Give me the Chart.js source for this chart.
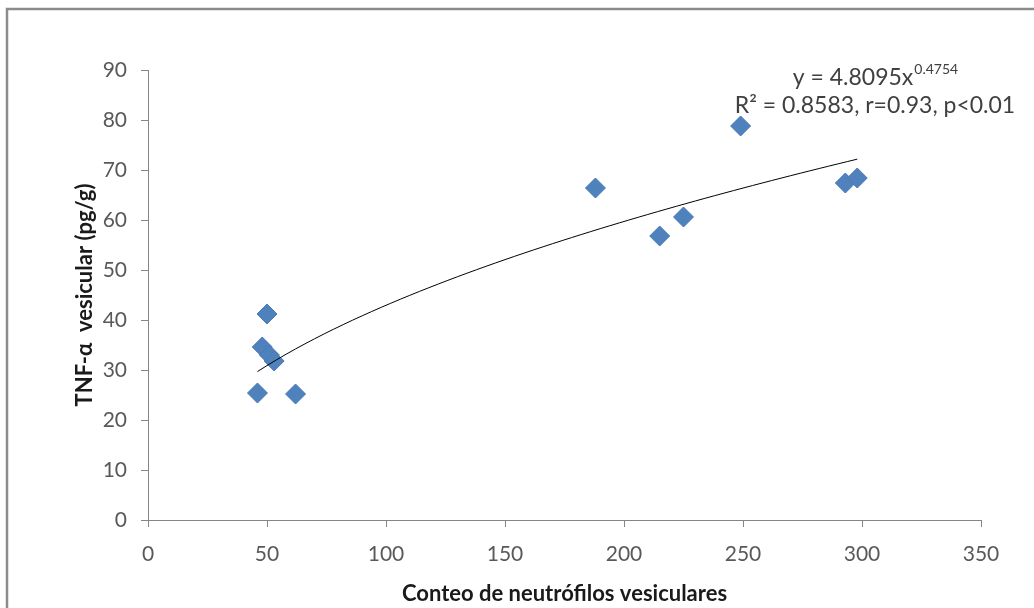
<!DOCTYPE html>
<html>
<head>
<meta charset="utf-8">
<title>TNF-α vesicular</title>
<script src="https://cdn.jsdelivr.net/npm/chart.js@4/dist/chart.umd.min.js"></script>
<style>
    html, body { margin: 0; padding: 0; background: #fff; }
    #wrap { width: 1034px; height: 608px; position: relative; }
</style>
</head>
<body>
<div id="wrap"><canvas id="tnfChart"></canvas></div>
<script>
// Neutrophil count vs TNF-alpha per sample
const neutrofilos = [46, 62, 50, 48, 51, 53, 188, 215, 225, 249, 293, 298];
const tnfAlfa = [25.4, 25.2, 41.2, 34.6, 33.0, 31.8, 66.4, 56.8, 60.6, 78.8, 67.4, 68.4];

// Power fit reported for the series: y = a * x^b
const coefA = 4.8095;
const coefB = 0.4754;
const fitRange = [46, 298];

const xTicks = [0, 50, 100, 150, 200, 250, 300, 350];
const yTicks = [0, 10, 20, 30, 40, 50, 60, 70, 80, 90];

const axisGray = '#868686';
const labelGray = '#595959';

// Build the fitted curve from the reported coefficients
function buildTrend() {
    const pts = [];
    for (let x = fitRange[0]; x <= fitRange[1]; x += 4) {
        pts.push({ x: x, y: coefA * Math.pow(x, coefB) });
    }
    pts.push({ x: fitRange[1], y: coefA * Math.pow(fitRange[1], coefB) });
    return pts;
}

const puntos = neutrofilos.map((x, i) => ({ x: x, y: tnfAlfa[i] }));

// White background and the gray frame lines
const framePlugin = {
    id: 'frame',
    beforeDraw(chart) {
        const ctx = chart.ctx;
        ctx.save();
        ctx.fillStyle = '#fff';
        ctx.fillRect(0, 0, chart.width, chart.height);
        ctx.strokeStyle = '#8c8c8c';
        ctx.lineWidth = 2.5;
        ctx.beginPath();
        ctx.moveTo(7, chart.height);
        ctx.lineTo(7, 9);
        ctx.lineTo(chart.width, 9);
        ctx.stroke();
        ctx.restore();
    }
};

// Equation text near the top right
const equationPlugin = {
    id: 'equation',
    afterDraw(chart) {
        const ctx = chart.ctx;
        const cx = 875;
        ctx.save();
        ctx.fillStyle = '#404040';
        ctx.textBaseline = 'alphabetic';
        ctx.textAlign = 'left';

        const main = 'y = ' + coefA.toFixed(4) + 'x';
        const sup = coefB.toFixed(4);
        ctx.font = '23px Lato';
        const w1 = ctx.measureText(main).width;
        ctx.font = '14px Lato';
        const w2 = ctx.measureText(sup).width;
        const start = cx - (w1 + w2) / 2;
        ctx.font = '23px Lato';
        ctx.fillText(main, start, 85);
        ctx.font = '14px Lato';
        ctx.fillText(sup, start + w1 + 1, 74);

        ctx.font = '23px Lato';
        ctx.textAlign = 'center';
        ctx.fillText('R² = 0.8583, r=0.93, p<0.01', cx, 113);
        ctx.restore();
    }
};

const ctx = document.getElementById('tnfChart').getContext('2d');

new Chart(ctx, {
    type: 'scatter',

    data: {
        datasets: [
            {
                label: 'TNF-α',
                data: puntos,
                pointStyle: 'rectRot',
                pointRadius: 10,
                pointHoverRadius: 10,
                backgroundColor: '#4F81BD',
                borderColor: '#4A7BB5',
                borderWidth: 1,
                order: 1
            },
            {
                label: 'Potencial',
                type: 'line',
                data: buildTrend(),
                borderColor: '#000',
                borderWidth: 1,
                pointRadius: 0,
                fill: false,
                tension: 0,
                order: 0
            }
        ]
    },

    options: {
        responsive: true,
        maintainAspectRatio: false,
        animation: false,

        layout: {
            padding: { top: 70, right: 53, left: 0, bottom: 0 }
        },

        plugins: {
            legend: { display: false },
            tooltip: { enabled: false }
        },

        scales: {
            x: {
                type: 'linear',
                min: xTicks[0],
                max: xTicks[xTicks.length - 1],
                afterBuildTicks: (scale) => {
                    scale.ticks = xTicks.map(v => ({ value: v }));
                },
                afterFit: (scale) => { scale.height = 88; },
                ticks: {
                    color: labelGray,
                    font: { family: 'Lato', size: 21 },
                    padding: 15,
                    maxRotation: 0
                },
                grid: {
                    drawOnChartArea: false,
                    color: axisGray,
                    tickLength: 7
                },
                border: { color: axisGray, width: 1 },
                title: {
                    display: true,
                    text: 'Conteo de neutrófilos vesiculares',
                    color: '#1a1a1a',
                    font: { family: 'Lato', size: 22, weight: 'bold' },
                    padding: { top: 0, bottom: 1 }
                }
            },
            y: {
                min: yTicks[0],
                max: yTicks[yTicks.length - 1],
                afterBuildTicks: (scale) => {
                    scale.ticks = yTicks.map(v => ({ value: v }));
                },
                afterFit: (scale) => { scale.width = 148; },
                ticks: {
                    color: labelGray,
                    font: { family: 'Lato', size: 21 },
                    padding: 14
                },
                grid: {
                    drawOnChartArea: false,
                    color: axisGray,
                    tickLength: 7
                },
                border: { color: axisGray, width: 1 },
                title: {
                    display: true,
                    text: 'TNF-α  vesicular (pg/g)',
                    color: '#1a1a1a',
                    font: { family: 'Lato', size: 22, weight: 'bold' },
                    padding: { top: 72, bottom: 0 }
                }
            }
        }
    },

    plugins: [framePlugin, equationPlugin]
});
</script>
</body>
</html>
